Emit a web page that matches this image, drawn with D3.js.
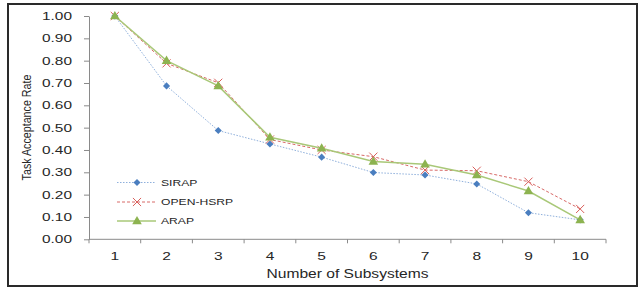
<!DOCTYPE html>
<html>
<head>
<meta charset="utf-8">
<script src="https://cdn.jsdelivr.net/npm/d3@7"></script>
<style>
  body { margin: 0; background: #fff; }
  text { font-family: "Liberation Sans", Arial, sans-serif; }
</style>
</head>
<body>
<svg id="chart"></svg>
<script>
var subsystems = [1, 2, 3, 4, 5, 6, 7, 8, 9, 10]
var sirap = [1.00, 0.687, 0.487, 0.427, 0.368, 0.299, 0.288, 0.248, 0.119, 0.087]
var openHsrp = [1.00, 0.788, 0.701, 0.447, 0.40, 0.370, 0.310, 0.307, 0.258, 0.136]
var arap = [1.00, 0.80, 0.687, 0.457, 0.408, 0.348, 0.336, 0.288, 0.216, 0.087]
var yTicks = [0, 0.1, 0.2, 0.3, 0.4, 0.5, 0.6, 0.7, 0.8, 0.9, 1.0]

var series = [
    { name: 'SIRAP', values: sirap, line: '#8fb0dc', dash: '1.5,1.5', marker: 'diamond', color: '#4a7ebf' },
    { name: 'OPEN-HSRP', values: openHsrp, line: '#d86a68', dash: '3,2', marker: 'cross', color: '#d9605c' },
    { name: 'ARAP', values: arap, line: '#a9c878', dash: null, marker: 'triangle', color: '#8db350' }
]

var width = 638
var height = 289
var plotLeft = 89, plotRight = 606, plotTop = 16, plotBottom = 239.3

var svg = d3.select('#chart')
    .attr('width', width)
    .attr('height', height)

// frame
svg.append('rect')
    .attr('x', 8).attr('y', 4)
    .attr('width', 629).attr('height', 282)
    .attr('fill', 'none')
    .attr('stroke', '#2a2a2a')
    .attr('stroke-width', 2)

var x = d3.scalePoint().domain(subsystems).range([plotLeft, plotRight]).padding(0.5)
var xb = d3.scaleBand().domain(subsystems).range([plotLeft, plotRight])
var y = d3.scaleLinear().domain([0, 1]).range([plotBottom, plotTop])

var axisColor = '#8a8a8a'

// helper for horizontally stretched text
function label(g, str, tx, ty, size, sx, anchor, fill) {
    return g.append('text')
        .attr('transform', 'translate(' + tx + ',' + ty + ') scale(' + sx + ',1)')
        .attr('font-size', size)
        .attr('text-anchor', anchor)
        .attr('fill', fill || '#262626')
        .text(str)
}

// y axis
var yAxis = svg.append('g').attr('transform', 'translate(' + plotLeft + ',0)')
    .call(d3.axisLeft(y).tickValues(yTicks).tickSize(5).tickSizeOuter(0).tickFormat(''))
yAxis.selectAll('line, path').attr('stroke', axisColor)
yTicks.forEach(function(t) {
    label(svg, d3.format('.2f')(t), 72, y(t) + 4, 11, 1.4, 'end')
})

// x axis line and boundary ticks
svg.append('line')
    .attr('x1', plotLeft).attr('x2', plotRight)
    .attr('y1', plotBottom).attr('y2', plotBottom)
    .attr('stroke', axisColor)
var bounds = subsystems.map(function(d) { return xb(d) }).concat([plotRight])
svg.selectAll('.xtick').data(bounds).enter().append('line')
    .attr('x1', function(d) { return d }).attr('x2', function(d) { return d })
    .attr('y1', plotBottom).attr('y2', plotBottom + 4)
    .attr('stroke', axisColor)
subsystems.forEach(function(s) {
    label(svg, s, x(s), 260, 11.5, 1.35, 'middle')
})

// axis titles
label(svg, 'Number of Subsystems', 347.5, 277.7, 13, 1.2, 'middle')
svg.append('text')
    .attr('transform', 'translate(30.7,127.5) scale(1.16,1) rotate(-90)')
    .attr('font-size', 10.7)
    .attr('text-anchor', 'middle')
    .attr('fill', '#262626')
    .text('Task Acceptance Rate')

// markers
function drawMarker(g, type, cx, cy, color) {
    if (type === 'diamond') {
        g.append('path')
            .attr('d', d3.symbol(d3.symbolDiamond2, 32)())
            .attr('transform', 'translate(' + cx + ',' + cy + ')')
            .attr('fill', color)
    } else if (type === 'triangle') {
        g.append('path')
            .attr('d', d3.symbol(d3.symbolTriangle, 40)())
            .attr('transform', 'translate(' + cx + ',' + (cy + 0.5) + ')')
            .attr('fill', color)
    } else {
        g.append('path')
            .attr('d', d3.symbol(d3.symbolTimes, 45)())
            .attr('transform', 'translate(' + cx + ',' + cy + ')')
            .attr('fill', 'none')
            .attr('stroke', color)
            .attr('stroke-width', 1)
    }
}

var line = d3.line()
    .x(function(d, i) { return x(subsystems[i]) })
    .y(function(d) { return y(d) })

series.forEach(function(s) {
    var g = svg.append('g')
    g.append('path')
        .datum(s.values)
        .attr('d', line)
        .attr('fill', 'none')
        .attr('stroke', s.line)
        .attr('stroke-width', s.dash ? 1 : 1.5)
        .attr('stroke-dasharray', s.dash)
    s.values.forEach(function(v, i) {
        drawMarker(g, s.marker, x(subsystems[i]), y(v), s.color)
    })
})

// legend
var rows = [182.5, 202, 221]
series.forEach(function(s, i) {
    var g = svg.append('g')
    g.append('line')
        .attr('x1', 117).attr('x2', 156)
        .attr('y1', rows[i]).attr('y2', rows[i])
        .attr('stroke', s.line)
        .attr('stroke-width', s.dash ? 1 : 1.5)
        .attr('stroke-dasharray', s.dash)
    drawMarker(g, s.marker, 137, rows[i], s.color)
    label(g, s.name, 161, rows[i] + 3.3, 9, 1.35, 'start')
})
</script>
</body>
</html>
